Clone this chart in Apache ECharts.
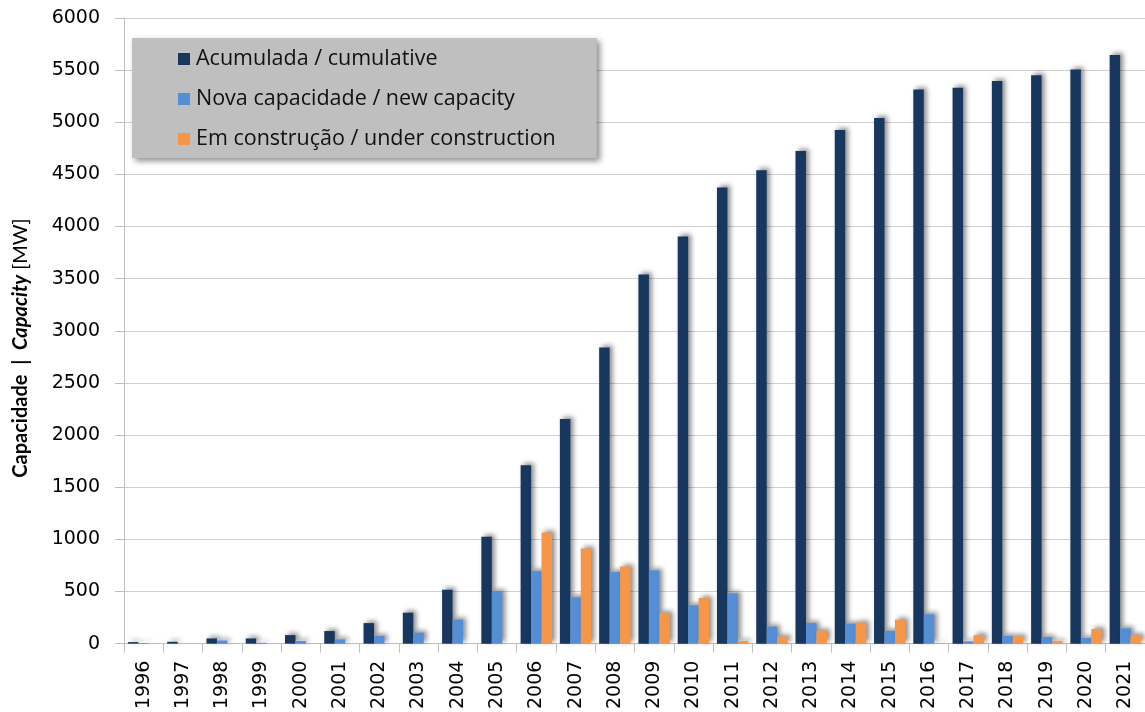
<!DOCTYPE html>
<html><head><meta charset="utf-8">
<script src="https://cdn.jsdelivr.net/npm/echarts@6/dist/echarts.min.js"></script>
<style>html,body{margin:0;padding:0;background:#fff}#c{width:1145px;height:712px}</style>
</head><body><div id="c"></div>
<script>
const years = ['1996','1997','1998','1999','2000','2001','2002','2003','2004','2005','2006','2007','2008','2009','2010','2011','2012','2013','2014','2015','2016','2017','2018','2019','2020','2021'];
const cumulative = [15,18,50,50,82,121,197,297,517,1025,1710,2155,2840,3540,3905,4375,4540,4725,4925,5040,5315,5330,5395,5450,5505,5645];
const newCapacity = [5,0,30,8,25,41,72,105,230,500,695,444,686,702,367,482,163,197,191,121,281,22,73,63,54,147];
const underConstruction = [0,0,0,0,0,0,0,0,0,0,1065,913,740,293,437,25,67,125,201,230,6,82,70,25,140,80];
const seriesNames = ['Acumulada / cumulative','Nova capacidade / new capacity','Em construção / under construction'];
const yTicks = {min:0, max:6000, interval:500};

const colors = ['#17375E','#558ED5','#F79646'];
const shadow = {shadowBlur:5, shadowColor:'rgba(0,0,0,0.45)', shadowOffsetX:3, shadowOffsetY:-2};
const chart = echarts.init(document.getElementById('c'), null, {renderer:'canvas'});
chart.setOption({
  animation:false,
  color: colors,
  grid:{left:124, right:0, top:18, bottom:68, containLabel:false},
  legend:{
    orient:'vertical', left:132, top:38,
    padding:[9,41,7,46],
    backgroundColor:'#BFBFBF',
    shadowBlur:6, shadowColor:'rgba(0,0,0,0.45)', shadowOffsetX:3, shadowOffsetY:3,
    itemWidth:12, itemHeight:12, itemGap:16, icon:'rect',
    textStyle:{fontFamily:'Open Sans', fontSize:21.5, color:'#111', lineHeight:24, padding:[0,0,0,1]},
    data: seriesNames
  },
  xAxis:{
    type:'category', data: years,
    axisLine:{lineStyle:{color:'#BFBFBF', width:1}},
    axisTick:{show:true, alignWithLabel:false, length:9, lineStyle:{color:'#BFBFBF'}},
    axisLabel:{rotate:90, fontFamily:'DejaVu Sans', fontSize:19, color:'#000', margin:17}
  },
  yAxis:{
    type:'value', min:yTicks.min, max:yTicks.max, interval:yTicks.interval,
    axisLine:{show:true, lineStyle:{color:'#BFBFBF'}},
    axisTick:{show:true, length:9, lineStyle:{color:'#BFBFBF'}},
    splitLine:{lineStyle:{color:'#D0D0D0'}},
    axisLabel:{fontFamily:'DejaVu Sans', fontSize:19, color:'#000', margin:24, formatter: v => String(v)}
  },
  graphic:[{
    type:'text', x:21, y:348, rotation:Math.PI/2,
    style:{
      text:'{b|Capacidade  |  }{bi|Capacity}{n| [MW]}',
      align:'center', verticalAlign:'middle',
      rich:{
        b:{fontFamily:'Lato', fontWeight:'bold', fontSize:20, fill:'#000'},
        bi:{fontFamily:'Lato', fontWeight:'bold', fontStyle:'italic', fontSize:20, fill:'#000'},
        n:{fontFamily:'Lato', fontSize:20, fill:'#000'}
      }
    }
  }],
  series:[
    {name:seriesNames[0], type:'bar', data:cumulative, barGap:'0%', barCategoryGap:'20%', itemStyle:Object.assign({color:colors[0]}, shadow)},
    {name:seriesNames[1], type:'bar', data:newCapacity, itemStyle:Object.assign({color:colors[1]}, shadow)},
    {name:seriesNames[2], type:'bar', data:underConstruction, itemStyle:Object.assign({color:colors[2]}, shadow)}
  ]
});
</script></body></html>
